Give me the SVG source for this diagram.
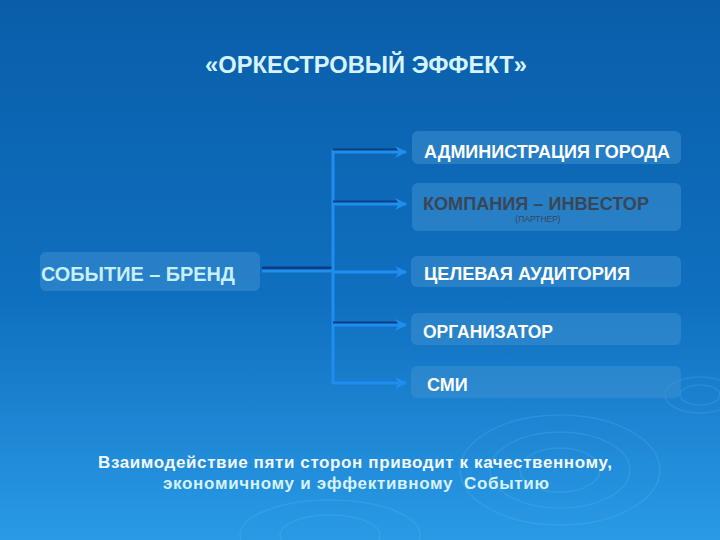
<svg xmlns="http://www.w3.org/2000/svg" width="720" height="540" viewBox="0 0 720 540">
<defs>
<linearGradient id="bg" x1="0" y1="0" x2="0" y2="1">
<stop offset="0" stop-color="#0a5ea9"/>
<stop offset="0.55" stop-color="#0f6fbf"/>
<stop offset="1" stop-color="#2a9ae6"/>
</linearGradient>
<marker id="ah" viewBox="0 0 10 10" refX="9" refY="5" markerWidth="4" markerHeight="4" orient="auto" markerUnits="strokeWidth">
<path d="M0,0 L10,5 L0,10 L3,5 Z" fill="#1e8ef0"/>
</marker>
<style>
.box{fill:#3d8fd0;fill-opacity:0.55}
.lbl{font-family:"Liberation Sans",Arial,sans-serif;font-weight:bold;font-size:18px;fill:#ffffff}
.ln{stroke:#1e8ef0;stroke-width:3;fill:none}
.sh{stroke:#0b3d80;stroke-width:3;fill:none}
.rip{fill:none;stroke:#7cc4f4;stroke-opacity:0.18;stroke-width:1.5}
</style>
</defs>
<rect width="720" height="540" fill="url(#bg)"/>
<g id="ripples">
<ellipse class="rip" cx="700" cy="395" rx="20" ry="10"/>
<ellipse class="rip" cx="700" cy="395" rx="35" ry="18"/>
<ellipse class="rip" cx="560" cy="470" rx="40" ry="22"/>
<ellipse class="rip" cx="560" cy="470" rx="70" ry="38"/>
<ellipse class="rip" cx="560" cy="470" rx="100" ry="55"/>
<ellipse class="rip" cx="330" cy="535" rx="50" ry="20"/>
<ellipse class="rip" cx="330" cy="535" rx="90" ry="35"/>
</g>
<text x="366" y="73" text-anchor="middle" font-family="'Liberation Sans',Arial,sans-serif" font-weight="bold" font-size="24" fill="#d6f3ff" textLength="322" lengthAdjust="spacingAndGlyphs">«ОРКЕСТРОВЫЙ ЭФФЕКТ»</text>
<g id="connectors">
<line class="sh" x1="262" y1="268" x2="333" y2="268"/>
<line class="ln" x1="262" y1="271" x2="333" y2="271"/>
<line class="ln" x1="333" y1="150" x2="333" y2="384"/>
<line class="sh" x1="333" y1="150" x2="400" y2="150"/>
<line class="ln" x1="333" y1="152" x2="406" y2="152" marker-end="url(#ah)"/>
<line class="sh" x1="333" y1="202" x2="400" y2="202"/>
<line class="ln" x1="333" y1="204" x2="406" y2="204" marker-end="url(#ah)"/>
<line class="ln" x1="333" y1="272" x2="406" y2="272" marker-end="url(#ah)"/>
<line class="sh" x1="333" y1="323" x2="400" y2="323"/>
<line class="ln" x1="333" y1="325" x2="406" y2="325" marker-end="url(#ah)"/>
<line class="ln" x1="333" y1="383" x2="406" y2="383" marker-end="url(#ah)"/>
</g>
<g id="event">
<rect class="box" x="40" y="252" width="220" height="39" rx="6"/>
<text x="41" y="281" font-family="'Liberation Sans',Arial,sans-serif" font-weight="bold" font-size="20" fill="#c8efff" textLength="194" lengthAdjust="spacingAndGlyphs">СОБЫТИЕ – БРЕНД</text>
</g>
<g id="admin">
<rect class="box" x="412" y="131" width="269" height="33" rx="6"/>
<text class="lbl" x="424" y="158" textLength="246" lengthAdjust="spacingAndGlyphs">АДМИНИСТРАЦИЯ ГОРОДА</text>
</g>
<g id="investor">
<rect class="box" x="412" y="183" width="269" height="48" rx="6"/>
<text class="lbl" x="423" y="210" style="fill:#3a4656" textLength="226" lengthAdjust="spacingAndGlyphs">КОМПАНИЯ – ИНВЕСТОР</text>
<text x="538" y="222" text-anchor="middle" font-family="'Liberation Sans',Arial,sans-serif" font-size="8.5" fill="#3a4656">(ПАРТНЕР)</text>
</g>
<g id="audience">
<rect class="box" x="411" y="256" width="270" height="31" rx="6"/>
<text class="lbl" x="424" y="280" textLength="206" lengthAdjust="spacingAndGlyphs">ЦЕЛЕВАЯ АУДИТОРИЯ</text>
</g>
<g id="organizer">
<rect class="box" x="411" y="313" width="270" height="32" rx="6"/>
<text class="lbl" x="423" y="338" textLength="130" lengthAdjust="spacingAndGlyphs">ОРГАНИЗАТОР</text>
</g>
<g id="media">
<rect class="box" x="411" y="366" width="270" height="32" rx="6"/>
<text class="lbl" x="427" y="391">СМИ</text>
</g>
<text x="355" y="468" text-anchor="middle" font-family="'Liberation Sans',Arial,sans-serif" font-weight="bold" font-size="17" fill="#f2faff" textLength="514" lengthAdjust="spacing">Взаимодействие пяти сторон приводит к качественному,</text>
<text x="356" y="489" text-anchor="middle" font-family="'Liberation Sans',Arial,sans-serif" font-weight="bold" font-size="17" fill="#d6f3ff" textLength="386" lengthAdjust="spacing" xml:space="preserve">экономичному и эффективному  Событию</text>
</svg>
